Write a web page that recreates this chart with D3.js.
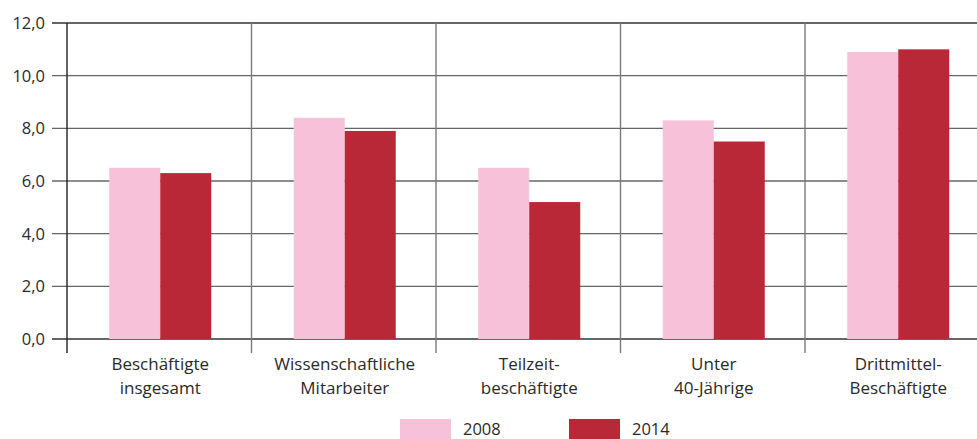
<!DOCTYPE html>
<html>
<head>
<meta charset="utf-8">
<script src="https://cdn.jsdelivr.net/npm/d3@7"></script>
<style>
  body { margin: 0; background: #fff; }
  svg text { font-family: "Open Sans", "Liberation Sans", sans-serif; fill: #2a2a2a; }
</style>
</head>
<body>
<div id="chart"></div>
<script>
// chart data
const categories = [
  ["Beschäftigte", "insgesamt"],
  ["Wissenschaftliche", "Mitarbeiter"],
  ["Teilzeit-", "beschäftigte"],
  ["Unter", "40-Jährige"],
  ["Drittmittel-", "Beschäftigte"]
];
const seriesNames = ["2008", "2014"];
const values2008 = [6.5, 8.4, 6.5, 8.3, 10.9];
const values2014 = [6.3, 7.9, 5.2, 7.5, 11.0];
const yTicks = [0, 2, 4, 6, 8, 10, 12];

const colors = ["#f7c1d9", "#b82837"];

const W = 977, H = 439;
const margin = {top: 23, left: 67};
const plotW = 922.5, plotH = 316;

const svg = d3.select("#chart").append("svg")
  .attr("width", W).attr("height", H);

const g = svg.append("g").attr("transform", "translate(" + margin.left + "," + margin.top + ")");

const x = d3.scaleBand().domain(d3.range(categories.length)).range([0, plotW]);
const y = d3.scaleLinear().domain([0, 12]).range([plotH, 0]);
const barW = 51;

// horizontal grid + tick marks
g.selectAll(".hgrid").data(yTicks).enter().append("line")
  .attr("x1", -15).attr("x2", plotW)
  .attr("y1", d => y(d)).attr("y2", d => y(d))
  .attr("stroke", d => (d == 0 || d == 12) ? "#333" : "#666")
  .attr("stroke-width", 1.4);

// vertical separators
g.selectAll(".vgrid").data(d3.range(1, categories.length)).enter().append("line")
  .attr("x1", d => x(d)).attr("x2", d => x(d))
  .attr("y1", 0).attr("y2", plotH + 14)
  .attr("stroke", "#7a7a7a").attr("stroke-width", 1.4);

// y axis line
g.append("line").attr("x1", 0).attr("x2", 0).attr("y1", 0).attr("y2", plotH + 14)
  .attr("stroke", "#222").attr("stroke-width", 1.4);

// bars
const series = [values2008, values2014];
series.forEach(function(vals, si) {
  g.selectAll(".bar" + si).data(vals).enter().append("rect")
    .attr("x", (d, i) => x(i) + x.bandwidth() / 2 - barW + si * barW + 1)
    .attr("y", d => y(d))
    .attr("width", barW)
    .attr("height", d => plotH - y(d))
    .attr("fill", colors[si]);
});

// y tick labels
g.selectAll(".ylab").data(yTicks).enter().append("text")
  .attr("x", -22).attr("y", d => y(d) + 6)
  .attr("text-anchor", "end")
  .style("font-size", "16.5px")
  .text(d => d3.format(".1f")(d).replace(".", ","));

// category labels
categories.forEach(function(lines, i) {
  lines.forEach(function(t, li) {
    g.append("text")
      .attr("x", x(i) + x.bandwidth() / 2 + 1)
      .attr("y", plotH + 31 + li * 24)
      .attr("text-anchor", "middle")
      .style("font-size", "17px")
      .text(t);
  });
});

// legend
const legendX = [400, 569];
seriesNames.forEach(function(name, i) {
  svg.append("rect").attr("x", legendX[i]).attr("y", 419)
    .attr("width", 51).attr("height", 20).attr("fill", colors[i]);
  svg.append("text").attr("x", legendX[i] + 63).attr("y", 435)
    .style("font-size", "16.5px").text(name);
});
</script>
</body>
</html>
